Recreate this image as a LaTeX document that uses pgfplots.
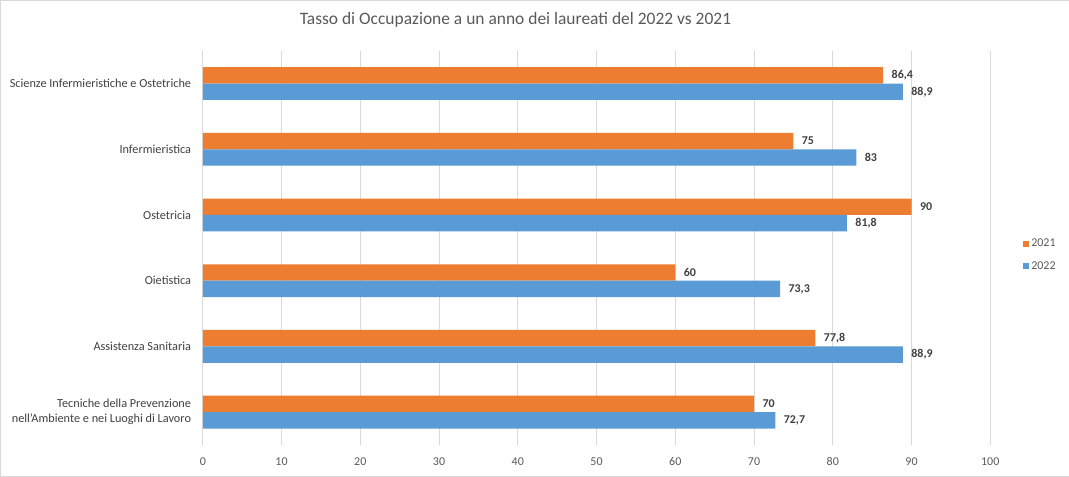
\documentclass[border=0pt]{standalone}
\usepackage{pgfplots}
\pgfplotsset{compat=1.18}
\usepackage{fontspec}
\setmainfont{Carlito}

\definecolor{c21}{HTML}{ED7D31}
\definecolor{c22}{HTML}{5B9BD5}
\definecolor{gridc}{HTML}{D9D9D9}
\definecolor{txt}{HTML}{595959}
\definecolor{lab}{HTML}{404040}

\begin{document}
\begin{tikzpicture}
  % chart frame
  \draw[gridc] (0.5bp,0.5bp) rectangle (1068.5bp,476.5bp);
  \node[text=txt, font=\fontsize{17.5}{17.5}\selectfont] at (515.5bp,457bp)
    {Tasso di Occupazione a un anno dei laureati del 2022 vs 2021};

  \begin{axis}[
      at={(203bp,32bp)}, anchor=south west,
      scale only axis, width=787bp, height=394bp,
      xbar, bar width=16.4bp,
      xmin=0, xmax=100, ymin=-0.5, ymax=5.5,
      xtick={0,10,...,100},
      ytick={0,...,5},
      yticklabels={{Tecniche della Prevenzione\\nell'Ambiente e nei Luoghi di Lavoro},
                   Assistenza Sanitaria, Oietistica, Ostetricia,
                   Infermieristica, Scienze Infermieristiche e Ostetriche},
      axis line style={draw=none},
      major tick style={draw=none},
      xmajorgrids, grid style={gridc, line width=0.8pt},
      xticklabel style={font=\fontsize{12}{12}\selectfont, text=txt, yshift=-9bp},
      yticklabel style={font=\fontsize{12.3}{15}\selectfont, text=lab, align=right, xshift=-4bp},
      /pgf/number format/assume math mode=true,
      /pgf/number format/.cd, use comma, fixed, precision=1, /pgfplots/.cd,
      nodes near coords,
      nodes near coords style={font=\bfseries\fontsize{12}{12}\selectfont, text=lab, xshift=5bp},
      legend image code/.code={\fill[#1] (0bp,-3bp) rectangle (6bp,3bp);},
      legend style={at={(1.038,0.482)}, anchor=west, draw=none, fill=none,
                    font=\fontsize{12}{12}\selectfont, text=txt, row sep=9bp,
                    cells={anchor=west}},
    ]
    \addplot[fill=c21, draw=none, bar shift=8.2bp] coordinates {
      (86.4,5) (75,4) (90,3) (60,2) (77.8,1) (70,0)
    };
    \addlegendentry{2021}
    \addplot[fill=c22, draw=none, bar shift=-8.2bp] coordinates {
      (88.9,5) (83,4) (81.8,3) (73.3,2) (88.9,1) (72.7,0)
    };
    \addlegendentry{2022}
  \end{axis}
\end{tikzpicture}
\end{document}
